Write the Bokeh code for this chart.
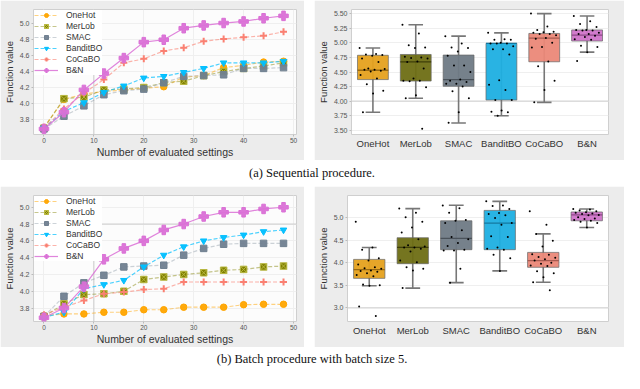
from bokeh.plotting import figure
from bokeh.layouts import column, row
from bokeh.models import Div, Range1d, FixedTicker, Span, NumeralTickFormatter
from bokeh.embed import file_html
from bokeh.resources import INLINE

methods = ["OneHot", "MerLob", "SMAC", "BanditBO", "CoCaBO", "B&N"]
iters = [0, 4, 8, 12, 16, 20, 24, 28, 32, 36, 40, 44, 48]

# (a) sequential: best function value vs evaluated settings
seq_onehot = [3.70, 4.05, 4.12, 4.15, 4.17, 4.19, 4.21, 4.33, 4.35, 4.45, 4.48, 4.52, 4.53]
seq_merlob = [3.69, 4.06, 4.08, 4.17, 4.18, 4.20, 4.26, 4.28, 4.35, 4.40, 4.44, 4.47, 4.51]
seq_smac = [3.68, 3.84, 3.97, 4.11, 4.16, 4.18, 4.26, 4.34, 4.35, 4.36, 4.44, 4.44, 4.45]
seq_bandit = [3.69, 3.90, 4.01, 4.14, 4.22, 4.32, 4.34, 4.39, 4.44, 4.51, 4.51, 4.51, 4.53]
seq_cocabo = [3.69, 3.93, 4.13, 4.30, 4.51, 4.56, 4.66, 4.70, 4.78, 4.81, 4.83, 4.85, 4.90]
seq_bn = [3.68, 3.89, 4.17, 4.375, 4.57, 4.77, 4.80, 4.945, 4.98, 5.01, 5.03, 5.07, 5.10]

# (b) batch
bat_onehot = [3.71, 3.73, 3.73, 3.75, 3.75, 3.78, 3.78, 3.81, 3.81, 3.81, 3.84, 3.845, 3.845]
bat_merlob = [3.70, 3.85, 3.96, 3.97, 4.00, 4.14, 4.17, 4.20, 4.22, 4.25, 4.26, 4.29, 4.30]
bat_smac = [3.70, 3.94, 4.10, 4.19, 4.29, 4.30, 4.31, 4.43, 4.51, 4.56, 4.57, 4.57, 4.57]
bat_bandit = [3.69, 3.75, 4.03, 4.08, 4.13, 4.29, 4.43, 4.53, 4.60, 4.64, 4.67, 4.71, 4.73]
bat_cocabo = [3.72, 3.81, 3.89, 3.97, 3.99, 4.02, 4.03, 4.11, 4.11, 4.11, 4.11, 4.11, 4.11]
bat_bn = [3.685, 3.80, 4.055, 4.38, 4.51, 4.60, 4.73, 4.80, 4.89, 4.94, 4.94, 4.98, 5.00]

# box statistics (sequential)
seq_q1 = [4.37, 4.345, 4.255, 4.02, 4.675, 5.03]
seq_med = [4.53, 4.675, 4.37, 4.99, 5.08, 5.13]
seq_q3 = [4.786, 4.80, 4.79, 4.99, 5.16, 5.22]
seq_lo = [3.81, 4.05, 3.627, 3.75, 3.98, 4.84]
seq_hi = [4.91, 5.31, 5.115, 5.17, 5.50, 5.46]

# box statistics (batch)
bat_q1 = [3.655, 3.98, 4.29, 4.29, 3.90, 4.93]
bat_med = [3.85, 4.34, 4.54, 4.88, 4.05, 5.06]
bat_q3 = [4.075, 4.555, 4.93, 5.16, 4.23, 5.125]
bat_lo = [3.49, 3.44, 3.56, 3.82, 3.57, 4.78]
bat_hi = [4.34, 5.20, 5.275, 5.36, 4.64, 5.19]

# individual runs (sequential)
seq_pts_onehot = [4.91, 4.81, 4.80, 4.79, 4.78, 4.73, 4.67, 4.56, 4.55, 4.54, 4.54, 4.52, 4.51, 4.45, 4.39, 4.29, 4.18, 4.13, 3.81]
seq_pts_merlob = [5.31, 5.16, 4.96, 4.92, 4.91, 4.76, 4.75, 4.74, 4.73, 4.68, 4.67, 4.56, 4.39, 4.35, 4.35, 4.34, 4.24, 4.10, 4.05, 3.53]
seq_pts_smac = [5.11, 4.99, 4.92, 4.91, 4.85, 4.78, 4.61, 4.61, 4.50, 4.37, 4.35, 4.33, 4.30, 4.30, 4.25, 4.17, 4.05, 3.81, 3.63]
seq_pts_bandit = [5.17, 5.06, 5.05, 5.05, 5.00, 4.99, 4.99, 4.99, 4.94, 4.89, 4.89, 4.80, 4.36, 4.28, 4.19, 4.02, 4.02, 3.84, 3.82, 3.81, 3.75]
seq_pts_cocabo = [5.50, 5.28, 5.22, 5.19, 5.18, 5.17, 5.15, 5.15, 5.13, 5.08, 5.07, 5.00, 4.93, 4.92, 4.68, 4.60, 4.35, 4.19, 3.98]
seq_pts_bn = [5.46, 5.37, 5.32, 5.27, 5.22, 5.22, 5.21, 5.21, 5.17, 5.15, 5.15, 5.12, 5.10, 5.06, 5.05, 4.95, 4.93, 4.84, 4.69]

# individual runs (batch)
bat_pts_onehot = [4.91, 4.34, 4.29, 4.10, 4.05, 3.96, 3.90, 3.88, 3.87, 3.83, 3.82, 3.80, 3.77, 3.73, 3.70, 3.52, 3.50, 3.49, 3.03, 2.82]
bat_pts_merlob = [5.20, 5.11, 5.01, 4.91, 4.78, 4.67, 4.52, 4.39, 4.36, 4.34, 4.34, 4.31, 4.25, 4.05, 4.01, 3.90, 3.87, 3.83, 3.44]
bat_pts_smac = [5.27, 5.21, 5.11, 4.95, 4.93, 4.88, 4.72, 4.57, 4.52, 4.44, 4.37, 4.29, 4.27, 4.27, 3.87, 3.56]
bat_pts_bandit = [5.36, 5.27, 5.26, 5.19, 5.10, 5.08, 5.05, 4.99, 4.88, 4.84, 4.59, 4.57, 4.34, 4.31, 4.29, 4.18, 4.10, 3.82]
bat_pts_cocabo = [5.14, 4.84, 4.64, 4.49, 4.36, 4.19, 4.18, 4.13, 4.11, 4.08, 4.05, 4.00, 3.98, 3.94, 3.93, 3.81, 3.77, 3.68, 3.57, 3.39]
bat_pts_bn = [5.19, 5.18, 5.16, 5.14, 5.12, 5.11, 5.09, 5.08, 5.06, 5.05, 5.01, 4.98, 4.97, 4.95, 4.93, 4.91, 4.88, 4.78]

line_colors = ["#FFA500", "#808000", "#708090", "#00BFFF", "#FA8072", "#DA70D6"]
box_colors = ["#E5A11E", "#6E6E14", "#6F7A85", "#1EAFE2", "#EB8878", "#D074C9"]
med_colors = ["#9a6a10", "#3e3e08", "#4a525a", "#1478a0", "#a85a50", "#8e4a88"]
markers = ["circle", "square_x", "square", "inverted_triangle", "cross", "plus"]
msizes = [6.5, 6.5, 6.5, 6.5, 7, 9.5]
line_alpha = [0.5, 0.45, 0.35, 0.7, 0.6, 0.85]

GRAY = "#ececec"
FONT = "Liberation Sans"


def style_axes(p, ytick_fmt, ylabel, xlabel=None, xsize="7px"):
    for ax in (p.xaxis[0], p.yaxis[0]):
        ax.axis_line_color = None
        ax.major_tick_line_color = "#bbbbbb"
        ax.major_tick_out = 2
        ax.major_tick_in = 0
        ax.minor_tick_line_color = None
        ax.major_label_text_font = FONT
        ax.major_label_text_color = "#555555"
        ax.axis_label_text_font = FONT
        ax.axis_label_text_font_style = "normal"
        ax.axis_label_text_color = "#333333"
        ax.major_label_standoff = 2
        ax.axis_label_standoff = 2
    p.yaxis[0].major_label_text_font_size = "7px"
    p.xaxis[0].major_label_text_font_size = xsize
    p.yaxis[0].axis_label = ylabel
    p.yaxis[0].axis_label_text_font_size = "9.5px"
    p.yaxis[0].formatter = NumeralTickFormatter(format=ytick_fmt)
    if xlabel:
        p.xaxis[0].axis_label = xlabel
        p.xaxis[0].axis_label_text_font_size = "10.5px"
        p.xaxis[0].axis_label_standoff = 0
        p.xaxis[0].major_label_standoff = 1
    p.grid.grid_line_color = "#efefef"
    p.outline_line_color = "#cfcfcf"


def line_panel(series, yr, w, h, top, hline=None):
    p = figure(width=w, height=h, x_range=Range1d(-2.1, 50.6), y_range=Range1d(*yr),
               output_backend="svg", toolbar_location=None,
               border_fill_color=GRAY, background_fill_color="#fcfcfc",
               min_border_left=32, min_border_right=8, min_border_top=top, min_border_bottom=16)
    p.xaxis.ticker = FixedTicker(ticks=[0, 10, 20, 30, 40, 50])
    p.yaxis.ticker = FixedTicker(ticks=[3.8, 4.0, 4.2, 4.4, 4.6, 4.8, 5.0])
    style_axes(p, "0.0", "Function value", "Number of evaluated settings", "6.5px")
    p.add_layout(Span(location=10, dimension="height", line_color="#cccccc", line_width=1, level="underlay"))
    if hline is not None:
        p.add_layout(Span(location=hline, dimension="width", line_color="#cccccc", line_width=1, level="underlay"))
    for i, (m, ys) in enumerate(zip(methods, series)):
        dash = "solid" if m == "B&N" else "4 2"
        p.line(iters, ys, line_color=line_colors[i], line_alpha=line_alpha[i], line_width=1.2,
               line_dash=dash, legend_label=m)
        if markers[i] == "cross":
            p.scatter(iters, ys, marker="cross", size=msizes[i], line_color=line_colors[i],
                      line_width=2, legend_label=m)
        elif markers[i] == "square_x":
            p.scatter(iters, ys, marker="square_x", size=msizes[i], fill_color=line_colors[i],
                      line_color="#b8b840", line_width=1, legend_label=m)
        else:
            p.scatter(iters, ys, marker=markers[i], size=msizes[i], fill_color=line_colors[i],
                      line_color=line_colors[i], fill_alpha=0.95, legend_label=m)
    lg = p.legend[0]
    lg.location = "top_left"
    lg.margin = 1
    lg.padding = 3
    lg.spacing = 1
    lg.label_text_font = FONT
    lg.label_text_font_size = "8.5px"
    lg.label_text_color = "#333333"
    lg.label_height = 10
    lg.glyph_height = 10
    lg.glyph_width = 24
    lg.label_standoff = 8
    lg.border_line_color = None
    lg.background_fill_alpha = 1.0
    return p


def offsets(n):
    return [((k * 0.6180339) % 1.0 - 0.5) * 0.62 for k in range(n)]


def box_panel(q1, med, q3, lo, hi, pts, yr, yticks, fmt, w, h, top, hline):
    p = figure(width=w, height=h, x_range=Range1d(0, 6), y_range=Range1d(*yr),
               output_backend="svg", toolbar_location=None,
               border_fill_color=GRAY, background_fill_color="white",
               min_border_left=31, min_border_right=16, min_border_top=top, min_border_bottom=16)
    xs = [i + 0.5 for i in range(len(methods))]
    p.xaxis.ticker = FixedTicker(ticks=xs)
    p.xaxis.major_label_overrides = {x: m for x, m in zip(xs, methods)}
    p.yaxis.ticker = FixedTicker(ticks=yticks)
    style_axes(p, fmt, "Function value", None, "9.5px")
    p.xaxis.major_label_text_color = "#333333"
    p.xaxis.major_tick_line_color = None
    p.xaxis.major_label_standoff = 1
    p.xgrid.grid_line_color = None
    p.add_layout(Span(location=hline, dimension="width", line_color="#d6d6d6", line_width=1.2, level="underlay"))
    p.segment(x0=xs, y0=lo, x1=xs, y1=hi, line_color="#777777", line_width=1.6)
    p.segment(x0=[x - 0.17 for x in xs], y0=hi, x1=[x + 0.17 for x in xs], y1=hi, line_color="#777777", line_width=1.6)
    p.segment(x0=[x - 0.17 for x in xs], y0=lo, x1=[x + 0.17 for x in xs], y1=lo, line_color="#777777", line_width=1.6)
    p.vbar(x=xs, width=0.72, bottom=q1, top=q3, fill_color=box_colors, fill_alpha=0.95,
           line_color="#666666", line_alpha=0.7, line_width=1)
    p.segment(x0=[x - 0.36 for x in xs], y0=med, x1=[x + 0.36 for x in xs], y1=med,
              line_color=med_colors, line_width=1.3)
    px, py = [], []
    for x, vals in zip(xs, pts):
        for o, v in zip(offsets(len(vals)), vals):
            px.append(x + o)
            py.append(v)
    p.scatter(px, py, size=2.0, fill_color="black", line_color=None)
    return p


W_L, W_R = 304, 310
p1 = line_panel([seq_onehot, seq_merlob, seq_smac, seq_bandit, seq_cocabo, seq_bn],
                (3.61, 5.18), W_L, 160, 7)
p2 = box_panel(seq_q1, seq_med, seq_q3, seq_lo, seq_hi,
               [seq_pts_onehot, seq_pts_merlob, seq_pts_smac, seq_pts_bandit, seq_pts_cocabo, seq_pts_bn],
               (3.43, 5.57), [3.5, 3.75, 4.0, 4.25, 4.5, 4.75, 5.0, 5.25, 5.5], "0.00", W_R, 160, 9, 4.0)
p3 = line_panel([bat_onehot, bat_merlob, bat_smac, bat_bandit, bat_cocabo, bat_bn],
                (3.64, 5.14), W_L, 161, 2, hline=4.8)
p4 = box_panel(bat_q1, bat_med, bat_q3, bat_lo, bat_hi,
               [bat_pts_onehot, bat_pts_merlob, bat_pts_smac, bat_pts_bandit, bat_pts_cocabo, bat_pts_bn],
               (2.70, 5.49), [3.0, 3.5, 4.0, 4.5, 5.0], "0.0", W_R, 161, 9, 3.0)


def caption(t, h):
    return Div(text=('<div style="width:624px;text-align:center;font-family:\'Liberation Serif\',serif;'
                     'font-size:12.5px;color:#111;line-height:%dpx">%s</div>' % (h, t)),
               width=624, height=h, margin=0)


layout = column(row(p1, p2, spacing=10), caption("(a) Sequential procedure.", 26),
                row(p3, p4, spacing=10), caption("(b) Batch procedure with batch size 5.", 24),
                spacing=0)

open("out.html", "w").write(file_html(layout, INLINE))
